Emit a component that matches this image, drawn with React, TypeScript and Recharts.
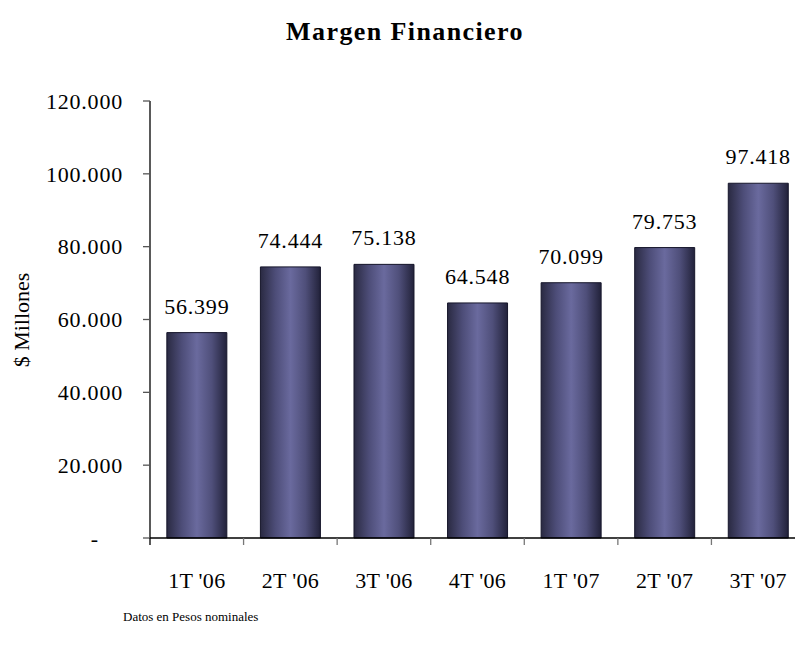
import React from 'react';
import { BarChart, Bar, XAxis, YAxis, LabelList } from 'recharts';

const categories = ["1T '06", "2T '06", "3T '06", "4T '06", "1T '07", "2T '07", "3T '07"];
const values = [56399, 74444, 75138, 64548, 70099, 79753, 97418];
const yTicks = [0, 20000, 40000, 60000, 80000, 100000, 120000];

const data = categories.map((c, i) => ({ name: c, value: values[i] }));

const FONT = '"Liberation Serif", "Times New Roman", serif';

const fmt = (v: number) => {
  if (v === 0) return '-';
  const s = String(Math.round(v));
  return s.replace(/\B(?=(\d{3})+(?!\d))/g, '.');
};

const CHART_W = 810;
const CHART_H = 647;
const X_AXIS_H = 30;
const MARGIN = { top: 101, right: 5, bottom: 109 - X_AXIS_H, left: 10 };
const Y_AXIS_W = 140;

const XTick = (props: any) => {
  const { x, y, payload, index } = props;
  const plotW = CHART_W - MARGIN.left - MARGIN.right - Y_AXIS_W;
  const half = plotW / categories.length / 2;
  return (
    <g>
      <line x1={x - half} x2={x - half} y1={y - 8} y2={y - 1} stroke={index === 0 ? '#000' : '#777'} strokeWidth={1.3} />
      <text x={x} y={y + 42} textAnchor="middle" fontFamily={FONT} fontSize={22} letterSpacing={0.3} fill="#000">
        {payload.value}
      </text>
    </g>
  );
};

const YTick = (props: any) => {
  const { x, y, payload } = props;
  const v = Number(payload.value);
  return (
    <text
      x={v === 0 ? x - 22 : x + 2}
      y={y}
      dy="0.355em"
      textAnchor="end"
      fontFamily={FONT}
      fontSize={22}
      letterSpacing={0.8}
      fill="#000"
    >
      {fmt(v)}
    </text>
  );
};

export default function App() {
  return (
    <div style={{ position: 'absolute', left: 0, top: 0, width: 795, height: 647, overflow: 'hidden', background: '#fff' }}>
      <BarChart width={CHART_W} height={CHART_H} data={data} margin={MARGIN} barCategoryGap="18%">
        <defs>
          <linearGradient id="barGrad" x1="0" y1="0" x2="1" y2="0">
            <stop offset="0%" stopColor="#2a2a42" />
            <stop offset="25%" stopColor="#4d4d78" />
            <stop offset="50%" stopColor="#6a6a9e" />
            <stop offset="75%" stopColor="#4f4f7a" />
            <stop offset="100%" stopColor="#22223a" />
          </linearGradient>
        </defs>
        <text x={405} y={40} textAnchor="middle" fontFamily={FONT} fontSize={26} fontWeight="bold" letterSpacing={1.4} fill="#000">
          Margen Financiero
        </text>
        <text
          x={0}
          y={0}
          transform="translate(29, 320) rotate(-90)"
          textAnchor="middle"
          fontFamily={FONT}
          fontSize={22}
          fill="#000"
        >
          $ Millones
        </text>
        <text x={123} y={621} fontFamily={FONT} fontSize={13} fill="#000">
          Datos en Pesos nominales
        </text>
        <XAxis
          dataKey="name"
          height={X_AXIS_H}
          axisLine={{ stroke: '#000', strokeWidth: 1.3 }}
          tickLine={false}
          tick={<XTick />}
          interval={0}
        />
        <YAxis
          width={Y_AXIS_W}
          domain={[0, 120000]}
          ticks={yTicks}
          axisLine={{ stroke: '#000', strokeWidth: 1.3 }}
          tickLine={{ stroke: '#555', strokeWidth: 1.3 }}
          tickSize={7}
          tickMargin={22}
          tick={<YTick />}
        />
        <Bar dataKey="value" fill="url(#barGrad)" stroke="#15152a" strokeWidth={1} isAnimationActive={false}>
          <LabelList dataKey="value" position="top" offset={19} formatter={(v: any) => fmt(Number(v))} fontFamily={FONT} fontSize={22} letterSpacing={0.8} fill="#000" />
        </Bar>
      </BarChart>
    </div>
  );
}
